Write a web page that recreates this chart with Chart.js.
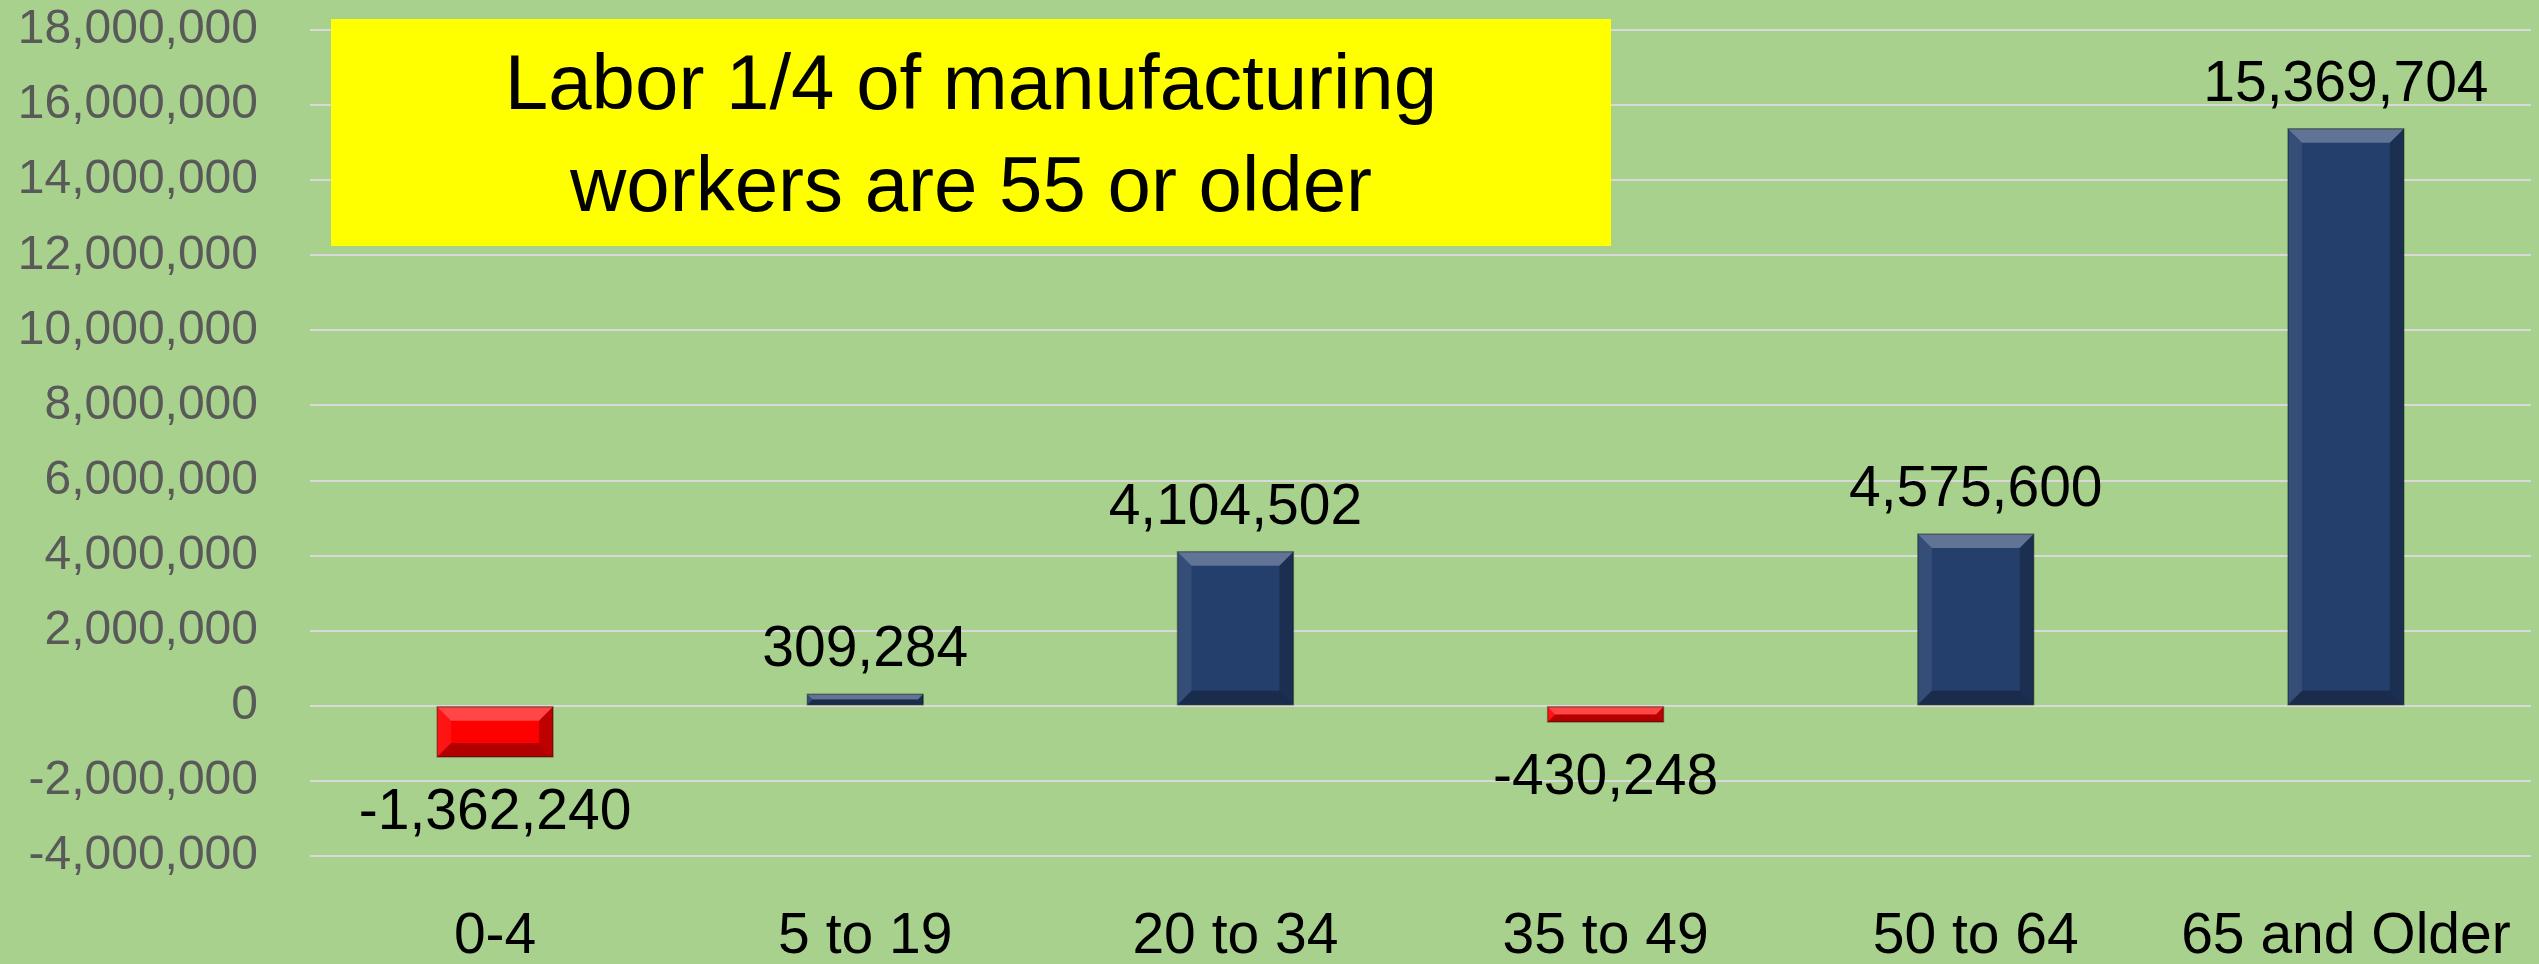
<!DOCTYPE html>
<html>
<head>
<meta charset="utf-8">
<script src="https://cdn.jsdelivr.net/npm/chart.js@4/dist/chart.umd.min.js"></script>
<style>
  html, body { margin: 0; padding: 0; background: #A9D18E; }
  #wrap { position: relative; width: 2539px; height: 964px; }
  #titleBox {
    position: absolute; left: 331px; top: 19px; width: 1280px; height: 227px;
    background: #FFFF00; display: flex; align-items: center; justify-content: center;
    font-family: 'Liberation Sans', Arial, sans-serif; font-size: 78px; line-height: 102px;
    text-align: center; color: #000;
  }
</style>
</head>
<body>
<div id="wrap">
  <canvas id="chart" width="2539" height="964"></canvas>
  <div id="titleBox">Labor 1/4 of manufacturing<br>workers are 55 or older</div>
</div>
<script>
const categories = ['0-4', '5 to 19', '20 to 34', '35 to 49', '50 to 64', '65 and Older'];
const values = [-1362240, 309284, 4104502, -430248, 4575600, 15369704];
const yMin = -4000000;
const yMax = 18000000;
const yStep = 2000000;

const NAVY = '#243F6C';
const RED = '#FF0000';
const FONT = "'Liberation Sans', Arial, sans-serif";

function fmt(v) {
  return Number(v).toLocaleString('en-US');
}

// bevel look of the bars, drawn over each bar element
const bevelPlugin = {
  id: 'bevel',
  afterDatasetsDraw(chart) {
    const ctx = chart.ctx;
    const meta = chart.getDatasetMeta(0);
    meta.data.forEach((bar) => {
      const left = bar.x - bar.width / 2;
      const right = bar.x + bar.width / 2;
      const top = Math.min(bar.y, bar.base);
      const bottom = Math.max(bar.y, bar.base);
      const h = bottom - top;
      const b = Math.min(14, h / 2, bar.width / 2);
      ctx.save();
      // top
      ctx.fillStyle = 'rgba(255,255,255,0.28)';
      ctx.beginPath();
      ctx.moveTo(left, top); ctx.lineTo(right, top);
      ctx.lineTo(right - b, top + b); ctx.lineTo(left + b, top + b);
      ctx.closePath(); ctx.fill();
      // left
      ctx.fillStyle = 'rgba(255,255,255,0.08)';
      ctx.beginPath();
      ctx.moveTo(left, top); ctx.lineTo(left + b, top + b);
      ctx.lineTo(left + b, bottom - b); ctx.lineTo(left, bottom);
      ctx.closePath(); ctx.fill();
      // right
      ctx.fillStyle = 'rgba(0,0,0,0.25)';
      ctx.beginPath();
      ctx.moveTo(right, top); ctx.lineTo(right - b, top + b);
      ctx.lineTo(right - b, bottom - b); ctx.lineTo(right, bottom);
      ctx.closePath(); ctx.fill();
      // bottom
      ctx.fillStyle = 'rgba(0,0,0,0.3)';
      ctx.beginPath();
      ctx.moveTo(left, bottom); ctx.lineTo(left + b, bottom - b);
      ctx.lineTo(right - b, bottom - b); ctx.lineTo(right, bottom);
      ctx.closePath(); ctx.fill();
      ctx.strokeStyle = 'rgba(0,0,0,0.35)';
      ctx.lineWidth = 1.5;
      ctx.strokeRect(left, top, right - left, h);
      ctx.restore();
    });
  }
};

// value labels above positive bars, below negative ones
const valueLabels = {
  id: 'valueLabels',
  afterDatasetsDraw(chart) {
    const ctx = chart.ctx;
    const meta = chart.getDatasetMeta(0);
    ctx.save();
    ctx.font = `57px ${FONT}`;
    ctx.fillStyle = '#000';
    ctx.textAlign = 'center';
    ctx.textBaseline = 'alphabetic';
    meta.data.forEach((bar, i) => {
      const v = values[i];
      const y = v >= 0 ? bar.y - 28 : bar.y + 72;
      ctx.fillText(fmt(v), bar.x, y);
    });
    ctx.restore();
  }
};

new Chart(document.getElementById('chart'), {
  type: 'bar',
  data: {
    labels: categories,
    datasets: [
      {
        data: values,
        backgroundColor: values.map((v) => (v < 0 ? RED : NAVY)),
        borderWidth: 0,
        barPercentage: 0.313,
        categoryPercentage: 1
      }
    ]
  },
  options: {
    responsive: false,
    animation: false,
    layout: { padding: { top: 30, right: 8, bottom: 0, left: 0 } },
    plugins: {
      legend: { display: false },
      tooltip: { enabled: false }
    },
    scales: {
      x: {
        grid: { display: false, drawTicks: false },
        border: { display: false },
        ticks: {
          color: '#000',
          font: { family: FONT, size: 57 },
          padding: 47,
          maxRotation: 0,
          autoSkip: false
        },
        afterFit(scale) {
          scale.height = 108;
          scale.paddingLeft = 0;
          scale.paddingRight = 0;
        }
      },
      y: {
        min: yMin,
        max: yMax,
        grid: { color: '#D9D9D9', lineWidth: 2, drawTicks: false },
        border: { display: false },
        ticks: {
          stepSize: yStep,
          color: '#595959',
          font: { family: FONT, size: 48 },
          padding: 52,
          callback: (v) => fmt(v)
        },
        afterFit(scale) {
          scale.width = 310;
          scale.paddingTop = 0;
          scale.paddingBottom = 0;
        }
      }
    }
  },
  plugins: [bevelPlugin, valueLabels]
});
</script>
</body>
</html>
